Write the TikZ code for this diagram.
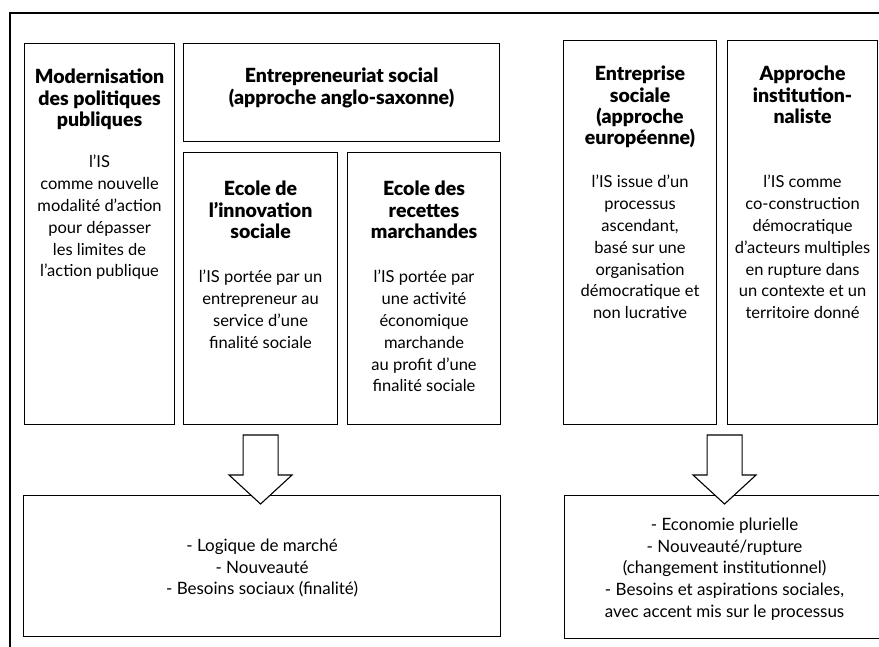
\documentclass[tikz,border=0pt]{standalone}
\usepackage{fontspec}
\setmainfont{Lato}[BoldFont={Lato Black}]
\usetikzlibrary{positioning, calc}

\begin{document}
\begin{tikzpicture}[
                x=1pt, y=-1pt,
                box/.style={draw, line width=1.1pt, rectangle, anchor=north west, inner sep=0pt},
                headtxt/.style={font=\bfseries\fontsize{19.5}{21.3}\selectfont, align=center, inner sep=0pt},
                bodytxt/.style={font=\fontsize{16.5}{21.8}\selectfont, align=center, inner sep=0pt},
                listtxt/.style={font=\fontsize{17}{21.6}\selectfont, align=center, inner sep=0pt},
                bigarrow/.style={draw, fill=white, line width=1.1pt, line join=miter},
            ]
                \useasboundingbox (0,0) rectangle (879,646);
                \clip (0,0) rectangle (879,646);

                % Outer frame
                \draw[line width=1.6pt] (10,700) -- (10,13) -- (900,13);

                % Draw the top boxes
                \node[box, minimum width=150pt, minimum height=381pt] (modb) at (24,43) {};
                \node[box, minimum width=316pt, minimum height=98pt] (entb) at (183,43) {};
                \node[box, minimum width=154pt, minimum height=272pt] (innb) at (183,152) {};
                \node[box, minimum width=153pt, minimum height=272pt] (recb) at (347,152) {};
                \node[box, minimum width=153pt, minimum height=384pt] (entrb) at (563,40) {};
                \node[box, minimum width=150pt, minimum height=384pt] (instb) at (727,40) {};

                % Draw the bottom boxes
                \node[box, minimum width=477pt, minimum height=141pt] (logb) at (23,495) {};
                \node[box, minimum width=320pt, minimum height=143pt] (ecob) at (564,495) {};

                % Titles and texts of the top boxes
                \node[headtxt, below=26pt of modb.north] (modh) {Modernisation\\des politiques\\publiques};
                \node[bodytxt, below=112pt of modb.north] (modt) {l’IS\\comme nouvelle\\modalité d’action\\pour dépasser\\les limites de\\l’action publique};

                \node[headtxt, below=25pt of entb.north] (enth) {Entrepreneuriat social\\(approche anglo-saxonne)};

                \node[headtxt, below=29pt of innb.north] (innh) {Ecole de\\l’innovation\\sociale};
                \node[bodytxt, below=118pt of innb.north] (innt) {l’IS portée par un\\entrepreneur au\\service d’une\\finalité sociale};

                \node[headtxt, below=29pt of recb.north] (rech) {Ecole des\\recettes\\marchandes};
                \node[bodytxt, below=118pt of recb.north] (rect) {l’IS portée par\\une activité\\économique\\marchande\\au profit d’une\\finalité sociale};

                \node[headtxt, below=26pt of entrb.north] (entrh) {Entreprise\\sociale\\(approche\\européenne)};
                \node[bodytxt, below=135pt of entrb.north] (entrt) {l’IS issue d’un\\processus\\ascendant,\\basé sur une\\organisation\\démocratique et\\non lucrative};

                \node[headtxt, below=26pt of instb.north] (insth) {Approche\\institution-\\naliste};
                \node[bodytxt, below=135pt of instb.north] (instt) {l’IS comme\\co-construction\\démocratique\\d’acteurs multiples\\en rupture dans\\un contexte et un\\territoire donné};

                % Texts of the bottom boxes
                \node[listtxt, below=44pt of logb.north] (logt) {- Logique de marché\\- Nouveauté\\- Besoins sociaux (finalité)};
                \node[listtxt, below=23pt of ecob.north] (ecot) {- Economie plurielle\\- Nouveauté/rupture\\(changement institutionnel)\\- Besoins et aspirations sociales,\\avec accent mis sur le processus};

                % Block arrows down to the bottom boxes
                \coordinate (tipL) at ($(logb.north)+(-1.5,9)$);
                \coordinate (tipR) at ($(ecob.north)+(0,9)$);
                \foreach \t in {tipL, tipR}
                    \draw[bigarrow] (\t) -- ++(-31.5,-29) -- ++(14,0) -- ++(0,-40) -- ++(35,0) -- ++(0,40) -- ++(14,0) -- cycle;
            \end{tikzpicture}
\end{document}
